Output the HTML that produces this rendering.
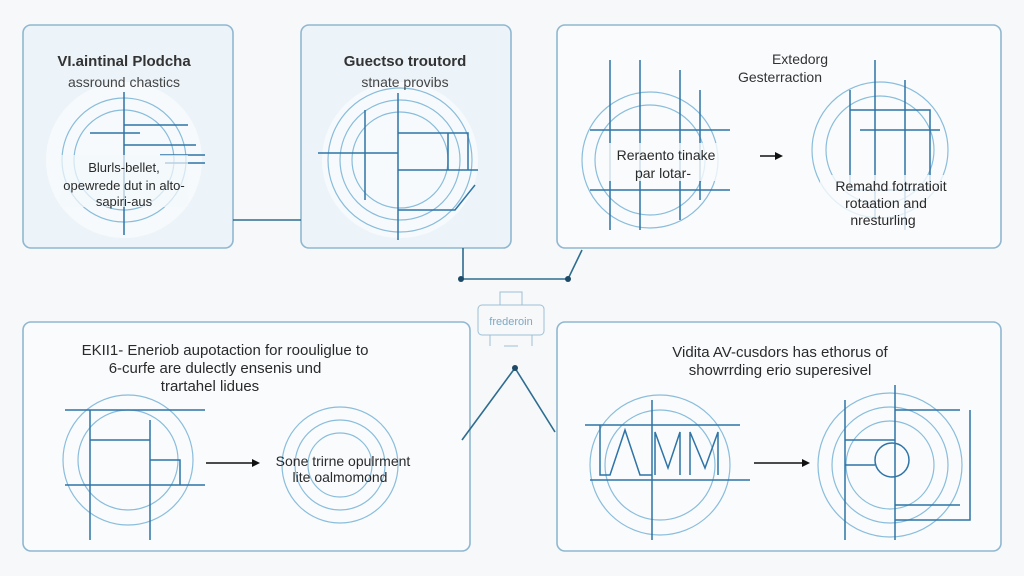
<!DOCTYPE html>
<html><head><meta charset="utf-8"><style>
html,body{margin:0;padding:0;background:#f6f8fa;}
svg{display:block;font-family:"Liberation Sans",sans-serif;}
</style></head><body>
<svg width="1024" height="576" viewBox="0 0 1024 576" xmlns="http://www.w3.org/2000/svg">
<rect width="1024" height="576" fill="#f6f8fa"/>
<g stroke="#8fb7d0" stroke-width="1.6">
<rect x="23" y="25" width="210" height="223" rx="8" fill="#edf4f9"/>
<rect x="301" y="25" width="210" height="223" rx="8" fill="#edf4f9"/>
<rect x="557" y="25" width="444" height="223" rx="8" fill="#f9fbfd"/>
<rect x="23" y="322" width="447" height="229" rx="8" fill="#f9fbfd"/>
<rect x="557" y="322" width="444" height="229" rx="8" fill="#f9fbfd"/>
</g>
<!-- connectors -->
<g stroke="#2e6d8f" stroke-width="1.6" fill="none">
<path d="M233 220 H301"/>
<path d="M463 248 V279 H568 L582 250"/>
<path d="M515 368 L462 440 M515 368 L555 432"/>
</g>
<g fill="#1d4a66"><circle cx="461" cy="279" r="3"/><circle cx="568" cy="279" r="3"/><circle cx="515" cy="368" r="3"/></g>
<!-- center logo -->
<g stroke="#9cc0d6" fill="none" stroke-width="1">
<rect x="478" y="305" width="66" height="30" rx="4"/>
<path d="M500 305 V292 H522 V305 M490 335 V346 M532 335 V346 M504 346 H518"/>
</g>
<text x="511" y="325" font-size="11" fill="#7fa8c2" text-anchor="middle">frederoin</text>
<!-- circles graphics -->
<g fill="none" stroke="#7fb7d8" stroke-width="1.2" opacity="0.9">
<circle cx="124" cy="160" r="78" fill="#f7fbfd" stroke="none"/>
<circle cx="124" cy="160" r="62"/><circle cx="124" cy="160" r="50"/>
<circle cx="400" cy="160" r="78" fill="#f7fbfd" stroke="none"/>
<circle cx="400" cy="160" r="72"/><circle cx="400" cy="160" r="60"/><circle cx="400" cy="160" r="48"/>
<circle cx="650" cy="160" r="68"/><circle cx="650" cy="160" r="55"/>
<circle cx="880" cy="150" r="68"/><circle cx="880" cy="150" r="54"/>
<circle cx="128" cy="460" r="65"/><circle cx="128" cy="460" r="50"/>
<circle cx="340" cy="465" r="58"/><circle cx="340" cy="465" r="45"/><circle cx="340" cy="465" r="32"/>
<circle cx="660" cy="465" r="70"/><circle cx="660" cy="465" r="55"/>
<circle cx="890" cy="465" r="72"/><circle cx="890" cy="465" r="58"/><circle cx="890" cy="465" r="44"/>
</g>
<g fill="none" stroke="#2f74a6" stroke-width="1.5">
<path d="M124 92 V235 M124 125 H188 M90 133 H140 M124 145 H196 M160 155 H205 M165 163 H205"/>
<path d="M398 93 V240 M318 153 H398 M365 110 V200 M398 133 H468 V170 H398 M398 170 H478 M448 133 V170 M398 210 H455 L475 185"/>
<path d="M610 60 V230 M640 60 V230 M680 70 V220 M590 130 H730 M590 190 H730 M700 90 V200"/>
<path d="M850 90 V190 H930 V110 H850 M875 60 V220 M905 80 V230 M860 130 H940"/>
<path d="M65 410 H205 M65 485 H205 M90 410 V540 M150 420 V540 M90 440 H150 V460 H180 V485"/>
<path d="M585 425 H740 M590 480 H750 M652 400 V540 M600 425 V475 L610 475 L625 430 L640 475 H652 M655 475 V432 L668 468 L680 432 V475 M690 475 V432 L705 468 L718 432 V475"/>
<path d="M845 400 V540 M895 385 V540 M845 440 H895 V410 H960 M845 465 H875 M895 505 H960 M895 520 H970 V410 M875 460 a17 17 0 1 1 34 0 a17 17 0 1 1 -34 0"/>
</g>
<!-- arrows -->
<g stroke="#111" stroke-width="1.5"><path d="M760 156 H778"/><path d="M206 463 H253"/><path d="M754 463 H804"/></g>
<g fill="#111"><path d="M783 156 l-8 -4 v8z"/><path d="M260 463 l-8 -4 v8z"/><path d="M810 463 l-8 -4 v8z"/></g>
<!-- text -->
<g fill="#2a2a2a" text-anchor="middle">
<text x="124" y="66" font-size="15" font-weight="bold" fill="#333">VI.aintinal Plodcha</text>
<text x="124" y="87" font-size="14" fill="#444">assround chastics</text>
<rect x="60" y="155" width="128" height="52" fill="#f4f8fb" opacity="0.7"/>
<text x="124" y="172" font-size="13">Blurls-bellet,</text>
<text x="124" y="190" font-size="13">opewrede dut in alto-</text>
<text x="124" y="206" font-size="13">sapiri-aus</text>
<text x="405" y="66" font-size="15" font-weight="bold" fill="#333">Guectso troutord</text>
<text x="405" y="87" font-size="14" fill="#444">stnate provibs</text>
<text x="800" y="64" font-size="14" fill="#333">Extedorg</text>
<text x="780" y="82" font-size="14" fill="#333">Gesterraction</text>
<rect x="603" y="143" width="130" height="38" fill="#f9fbfd" opacity="0.8"/>
<text x="666" y="160" font-size="14">Reraento tinake</text>
<text x="663" y="178" font-size="14">par lotar-</text>
<rect x="820" y="175" width="140" height="55" fill="#f9fbfd" opacity="0.8"/>
<text x="891" y="191" font-size="14">Remahd fotrratioit</text>
<text x="886" y="208" font-size="14">rotaation and</text>
<text x="883" y="225" font-size="14">nresturling</text>
<text x="225" y="355" font-size="15">EKII1- Eneriob aupotaction for roouliglue to</text>
<text x="215" y="373" font-size="15">6-curfe are dulectly ensenis und</text>
<text x="210" y="391" font-size="15">trartahel lidues</text>
<text x="343" y="466" font-size="14">Sone trirne opulrment</text>
<text x="340" y="482" font-size="14">lite oalmomond</text>
<text x="780" y="357" font-size="15">Vidita AV-cusdors has ethorus of</text>
<text x="780" y="375" font-size="15">showrrding erio superesivel</text>
</g>
</svg>
</body></html>
